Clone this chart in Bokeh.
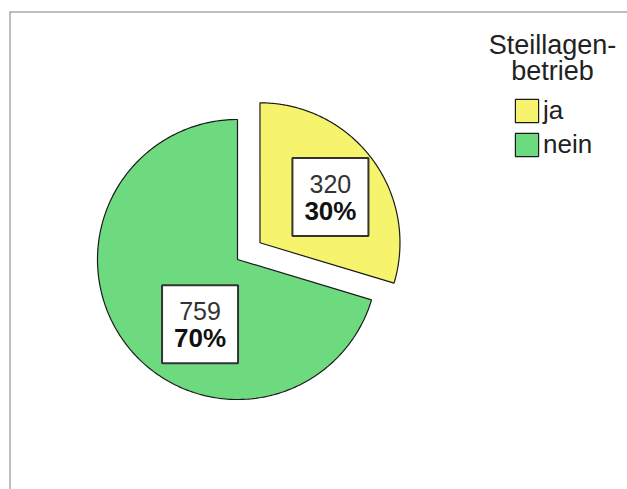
import numpy as np
from bokeh.plotting import figure
from bokeh.models import Range1d, ColumnDataSource, Legend, LegendItem, Span
from bokeh.core.properties import value
from bokeh.embed import file_html
from bokeh.resources import INLINE

# ---- data ----
categories = ["ja", "nein"]
counts = [320, 759]
colors = ["#F6F36D", "#6EDA80"]
exploded = [True, False]
legend_title = ["Steillagen-", "betrieb"]

# ---- layout / style (page pixels) ----
W, H = 627, 489
FL, FT = 9, 11                # frame left / top on the page
CX, CY, R = 237, 259, 140
EXPLODE = 28
LABEL_ANGLE = [57, 210]       # degrees clockwise from 12 o'clock
LABEL_FRAC = [0.60, 0.535]
FONT_NAME = "Liberation Sans"
FONT = value(FONT_NAME)

total = sum(counts)
fracs = np.array(counts) / total
ends = np.cumsum(fracs) * 360.0
starts = ends - fracs * 360.0

p = figure(width=W, height=H, x_range=Range1d(FL, W), y_range=Range1d(H, FT),
           output_backend="svg", toolbar_location=None,
           min_border_left=FL, min_border_top=FT, min_border_right=0, min_border_bottom=0,
           x_axis_location=None, y_axis_location=None)
p.grid.visible = False
p.outline_line_color = None
p.background_fill_color = "white"
p.border_fill_color = "white"

# frame lines (left and top visible in the reference)
p.add_layout(Span(location=FL, dimension="height", line_color="#808080", line_width=2))
p.add_layout(Span(location=FT, dimension="width", line_color="#808080", line_width=2))

items = []
box_x, box_y, val_txt, pct_txt = [], [], [], []
for i, cat in enumerate(categories):
    a0, a1 = starts[i], ends[i]
    mid = np.radians((a0 + a1) / 2)
    off = EXPLODE if exploded[i] else 0
    ox = CX + off * np.sin(mid)
    oy = CY - off * np.cos(mid)
    t = np.radians(np.linspace(a0, a1, 240))
    xs = np.concatenate([[ox], ox + R * np.sin(t)])
    ys = np.concatenate([[oy], oy - R * np.cos(t)])
    r = p.patch(xs, ys, fill_color=colors[i], line_color="#1a1a1a", line_width=1.2)
    items.append(LegendItem(label=cat, renderers=[r]))
    la = np.radians(LABEL_ANGLE[i])
    box_x.append(ox + LABEL_FRAC[i] * R * np.sin(la))
    box_y.append(oy - LABEL_FRAC[i] * R * np.cos(la))
    val_txt.append(str(counts[i]))
    pct_txt.append(f"{round(100 * counts[i] / total)}%")

src = ColumnDataSource(dict(x=box_x, y=box_y, v=val_txt, pc=pct_txt,
                            yv=[y - 13 for y in box_y], yp=[y + 14 for y in box_y]))
p.rect("x", "y", width=76, height=78, source=src, fill_color="white",
       line_color="#333333", line_width=2)
p.text("x", "yv", text="v", source=src, text_align="center", text_baseline="middle",
       text_font=FONT, text_font_size="25px", text_color="#333333")
p.text("x", "yp", text="pc", source=src, text_align="center", text_baseline="middle",
       text_font=FONT, text_font_size="26px", text_font_style="bold", text_color="#111111")

# legend title
p.text(x=[552, 552], y=[44, 70], text=legend_title, text_align="center",
       text_baseline="middle", text_font=FONT, text_font_size="27px",
       text_color="#222222")

legend = Legend(items=items, location=(512 - FL, H - 160), glyph_width=29, glyph_height=29,
                label_standoff=2, spacing=3, padding=0, margin=0,
                border_line_color=None, background_fill_alpha=0,
                label_text_font=FONT_NAME, label_text_font_size="26px",
                label_text_color="#222222", label_height=29)
p.add_layout(legend)

open("out.html", "w").write(file_html(p, INLINE))
